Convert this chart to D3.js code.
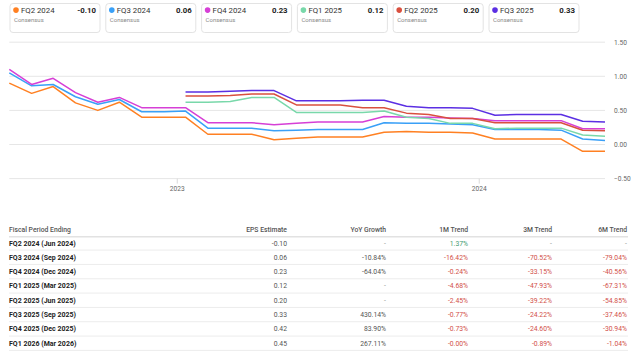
<!DOCTYPE html>
<html><head><meta charset="utf-8">
<script src="https://cdn.jsdelivr.net/npm/d3@7"></script>
<style>
  body {margin:0; background:#fff; font-family:Roboto, Arial, sans-serif;}
  svg {display:block;}
</style></head>
<body>
<svg id="chart" width="640" height="351"></svg>
<script>
// revision dates of the consensus estimates
const dates=['2022-06-12','2022-07-09','2022-08-04','2022-08-31','2022-09-27','2022-10-23',
  '2022-11-19','2022-12-16','2023-01-11','2023-02-07','2023-03-06','2023-04-01','2023-04-28',
  '2023-05-25','2023-06-20','2023-07-17','2023-08-13','2023-09-08','2023-10-05','2023-11-01',
  '2023-11-27','2023-12-24','2024-01-20','2024-02-15','2024-03-13','2024-04-09','2024-05-05','2024-06-01'];
const seriesNames=['FQ2 2024','FQ3 2024','FQ4 2024','FQ1 2025','FQ2 2025','FQ3 2025'];
const seriesColors=['#ff8022','#3aa0f7','#d63fd6','#79d8aa','#d9503f','#5b2fe3'];
const legendValues=['-0.10','0.06','0.23','0.12','0.20','0.33'];
const fq2_2024=[0.90,0.75,0.85,0.61,0.50,0.62,0.40,0.40,0.40,0.15,0.15,0.15,0.07,0.09,0.11,0.11,0.11,0.18,0.19,0.18,0.18,0.17,0.08,0.08,0.08,0.08,-0.10,-0.10];
const fq3_2024=[1.05,0.86,0.88,0.70,0.59,0.66,0.48,0.48,0.49,0.24,0.24,0.24,0.20,0.21,0.22,0.22,0.22,0.32,0.31,0.31,0.30,0.29,0.22,0.22,0.22,0.21,0.08,0.06];
const fq4_2024=[1.10,0.88,0.97,0.76,0.62,0.69,0.54,0.54,0.54,0.32,0.32,0.32,0.29,0.31,0.33,0.33,0.33,0.41,0.40,0.40,0.39,0.38,0.35,0.35,0.35,0.35,0.23,0.23];
const fq1_2025=[null,null,null,null,null,null,null,null,0.62,0.62,0.63,0.69,0.69,0.47,0.47,0.47,0.47,0.49,0.40,0.38,0.31,0.31,0.23,0.24,0.24,0.24,0.14,0.12];
const fq2_2025=[null,null,null,null,null,null,null,null,0.71,0.71,0.72,0.74,0.74,0.58,0.58,0.58,0.54,0.54,0.46,0.44,0.38,0.38,0.32,0.32,0.32,0.32,0.21,0.20];
const fq3_2025=[null,null,null,null,null,null,null,null,0.77,0.77,0.78,0.79,0.79,0.64,0.64,0.64,0.65,0.65,0.56,0.54,0.54,0.53,0.43,0.44,0.44,0.44,0.34,0.33];
const yTicks=[-0.5,0,0.5,1,1.5];
const xTicks=['2023-01-01','2024-01-01'];

// table
const periods=['FQ2 2024 (Jun 2024)','FQ3 2024 (Sep 2024)','FQ4 2024 (Dec 2024)','FQ1 2025 (Mar 2025)',
  'FQ2 2025 (Jun 2025)','FQ3 2025 (Sep 2025)','FQ4 2025 (Dec 2025)','FQ1 2026 (Mar 2026)'];
const epsEst=['-0.10','0.06','0.23','0.12','0.20','0.33','0.42','0.45'];
const yoyGrowth=['-','-10.84%','-64.04%','-','-','430.14%','83.90%','267.11%'];
const trend1M=['1.37%','-16.42%','-0.24%','-4.68%','-2.45%','-0.77%','-0.73%','-0.00%'];
const trend3M=['-','-70.52%','-33.15%','-47.93%','-39.22%','-24.22%','-24.60%','-0.89%'];
const trend6M=['-','-79.04%','-40.56%','-67.31%','-54.85%','-37.46%','-30.94%','-1.04%'];
const headers=['Fiscal Period Ending','EPS Estimate','YoY Growth','1M Trend','3M Trend','6M Trend'];

const series=[fq2_2024,fq3_2024,fq4_2024,fq1_2025,fq2_2025,fq3_2025];
const parse=d3.timeParse('%Y-%m-%d');
const svg=d3.select('#chart');

// ---- legend boxes
const lg=svg.append('g').selectAll('g').data(seriesNames).join('g')
  .attr('transform',(d,i)=>'translate('+(10+95.8*i)+',3.5)');
lg.append('rect').attr('width',90).attr('height',29).attr('rx',3)
  .attr('fill','#fff').attr('stroke','#e3e3e3');
lg.append('circle').attr('cx',6).attr('cy',6.6).attr('r',2.8)
  .attr('fill',(d,i)=>seriesColors[i]);
lg.append('text').attr('x',11).attr('y',9.3).text(d=>d)
  .style('font-size','7.8px').style('fill','#333');
lg.append('text').attr('x',86).attr('y',9.3).attr('text-anchor','end')
  .text((d,i)=>legendValues[i])
  .style('font-size','7.8px').style('font-weight','bold').style('fill','#222');
lg.append('text').attr('x',4).attr('y',18.8).text('Consensus')
  .style('font-size','6px').style('fill','#8a8a8a');

// ---- chart
const x=d3.scaleTime().domain([parse(dates[0]),parse(dates[dates.length-1])]).range([9.3,605]);
const y=d3.scaleLinear().domain([-0.5,1.5]).range([178.6,42.2]);

svg.append('g').selectAll('line').data(yTicks).join('line')
  .attr('x1',9.3).attr('x2',605).attr('y1',d=>y(d)).attr('y2',d=>y(d))
  .attr('stroke','#e6e6e6').attr('stroke-width',1);
svg.append('g').selectAll('text').data(yTicks).join('text')
  .attr('x',614).attr('y',d=>y(d)+2.4).text(d3.format('.2f'))
  .style('font-size','6.6px').style('fill','#666');

const xa=svg.append('g').selectAll('g').data(xTicks.map(parse)).join('g')
  .attr('transform',d=>'translate('+x(d)+',0)');
xa.append('line').attr('y1',y(-0.5)).attr('y2',y(-0.5)+5).attr('stroke','#d9d9d9');
xa.append('text').attr('y',y(-0.5)+12).attr('text-anchor','middle')
  .text(d3.timeFormat('%Y')).style('font-size','6.6px').style('fill','#666');

const line=d3.line().defined(d=>d.v!=null)
  .x(d=>x(d.t)).y(d=>y(d.v));
series.forEach(function(s,i){
  const data=s.map((v,k)=>({t:parse(dates[k]),v:v}));
  svg.append('path').datum(data).attr('d',line)
    .attr('fill','none').attr('stroke',seriesColors[i]).attr('stroke-width',1.5)
    .attr('stroke-linejoin','round');
});

// ---- table
const colX=[9,287,386,468,552,627];
const tb=svg.append('g');
tb.selectAll('text.h').data(headers).join('text').attr('class','h')
  .attr('x',(d,i)=>colX[i]).attr('y',231.5)
  .attr('text-anchor',(d,i)=>i==0?'start':'end').text(d=>d)
  .style('font-size','6.8px').style('font-weight','500').style('fill','#555');
tb.append('line').attr('x1',9).attr('x2',628).attr('y1',236.7).attr('y2',236.7)
  .attr('stroke','#e2e2e2').attr('stroke-width',1.6);

const rowY=d3.scaleLinear().domain([0,7]).range([243,343.3]);
const rows=tb.selectAll('g.r').data(periods).join('g').attr('class','r')
  .attr('transform',(d,i)=>'translate(0,'+rowY(i)+')');
rows.append('line').attr('x1',9).attr('x2',628).attr('y1',7.1).attr('y2',7.1)
  .attr('stroke','#ececec');
rows.append('text').attr('x',colX[0]).attr('y',2.5).text(d=>d)
  .style('font-size','7px').style('font-weight','bold').style('fill','#222');
function trendColor(s){
  if(s=='-') return '#999';
  return s[0]=='-'?'#d2504a':'#3f9a70';
}
const cols=[epsEst,yoyGrowth,trend1M,trend3M,trend6M];
cols.forEach(function(c,j){
  rows.append('text').attr('x',colX[j+1]).attr('y',2.5).attr('text-anchor','end')
    .text((d,i)=>c[i])
    .style('font-size','6.8px')
    .style('fill',(d,i)=>j<2?(c[i]=='-'?'#999':'#555'):trendColor(c[i]));
});
</script>
</body></html>
